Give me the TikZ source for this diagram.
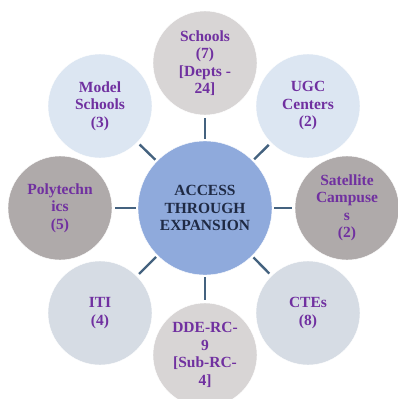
\documentclass[tikz,border=0pt]{standalone}
\usepackage{fontspec}
\setmainfont{Liberation Serif}
\definecolor{hubblue}{HTML}{8FAADC}
\definecolor{paleblue}{HTML}{DCE6F2}
\definecolor{palegrey}{HTML}{D6DCE4}
\definecolor{lightgrey}{HTML}{D8D5D5}
\definecolor{darkgrey}{HTML}{AFAAAA}
\definecolor{labelpurple}{HTML}{7030A0}
\definecolor{hubtext}{HTML}{1F2A44}
\definecolor{spoke}{HTML}{44627F}
\begin{document}
\begin{tikzpicture}[x=1pt,y=-1pt,
    hub/.style={circle,fill=hubblue,draw=white,minimum size=134pt,inner sep=0pt,align=center,
        font=\fontsize{15.5}{17.5}\selectfont\bfseries,text=hubtext},
    leaf/.style={circle,draw=white,minimum size=104pt,inner sep=0pt,align=center,
        font=\fontsize{15.5}{17.5}\selectfont\bfseries,text=labelpurple},
    link/.style={spoke,line width=2.4pt,shorten <=2pt,shorten >=3pt}]
        \useasboundingbox (0,0) rectangle (398,399);
        \node[hub] (hub) at (205,208) {ACCESS\\THROUGH\\EXPANSION};
        \node[leaf,fill=lightgrey] (schools) at (205,63) {Schools\\(7)\\{[}Depts -\\24{]}};
        \node[leaf,fill=paleblue] (ugc) at (308,106) {UGC\\Centers\\(2)};
        \node[leaf,fill=darkgrey] (satellite) at (347,208) {Satellite\\Campuse\\s\\(2)};
        \node[leaf,fill=palegrey] (ctes) at (308,313) {CTEs\\(8)};
        \node[leaf,fill=lightgrey] (dde) at (205,355) {DDE-RC-\\9\\{[}Sub-RC-\\4{]}};
        \node[leaf,fill=palegrey] (iti) at (100,313) {ITI\\(4)};
        \node[leaf,fill=darkgrey] (poly) at (60,208) {Polytechn\\ics\\(5)};
        \node[leaf,fill=paleblue] (model) at (100,106) {Model\\Schools\\(3)};
        % spokes
        \draw[link] (hub) -- (schools);
        \draw[link] (hub) -- (ugc);
        \draw[link] (hub) -- (satellite);
        \draw[link] (hub) -- (ctes);
        \draw[link] (hub) -- (dde);
        \draw[link] (hub) -- (iti);
        \draw[link] (hub) -- (poly);
        \draw[link] (hub) -- (model);
    \end{tikzpicture}
\end{document}
